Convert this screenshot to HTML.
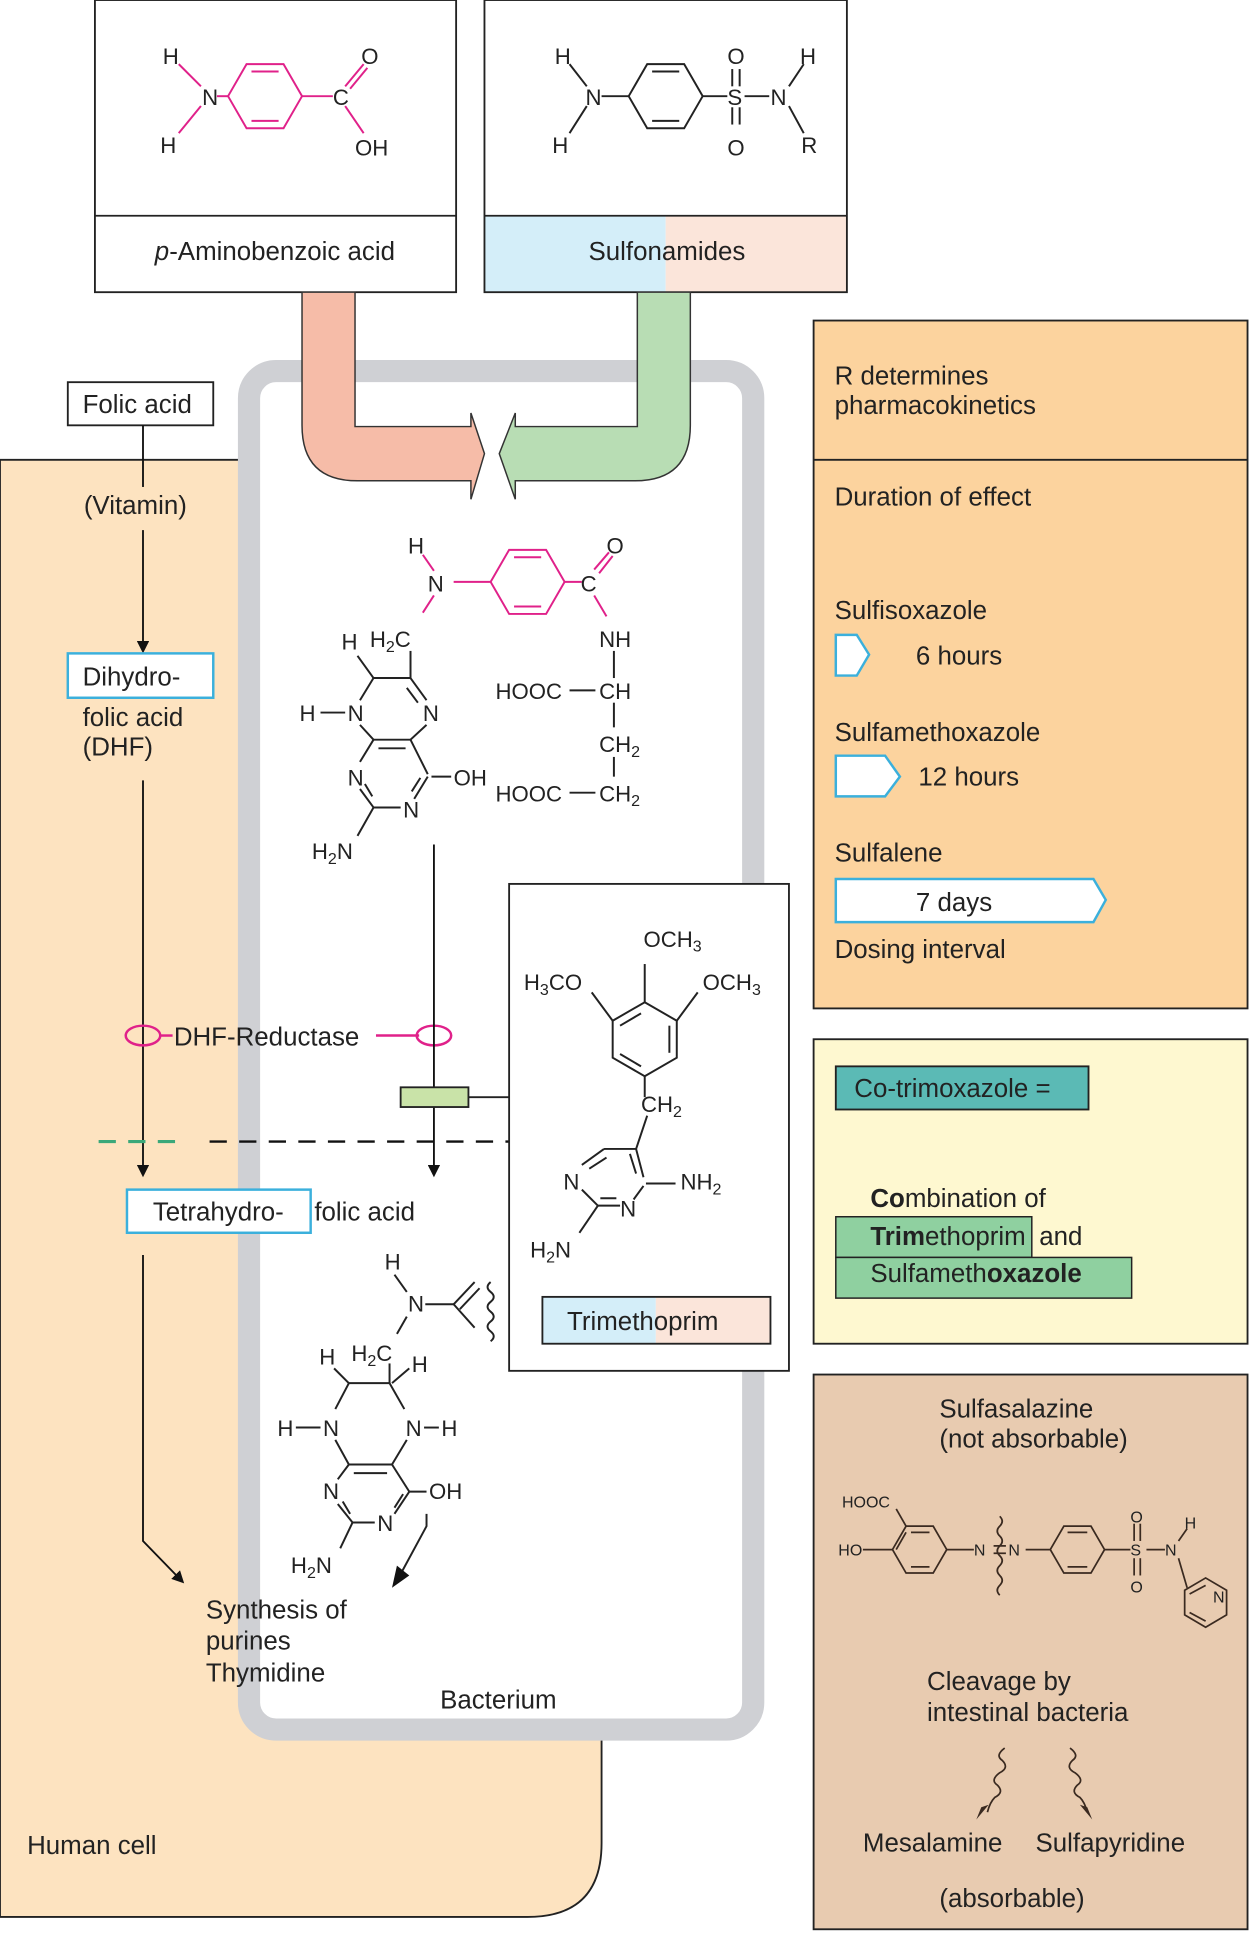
<!DOCTYPE html>
<html><head><meta charset="utf-8"><style>
html,body{margin:0;padding:0;background:#fff}
svg{display:block}
text{font-family:"Liberation Sans",sans-serif;fill:#222}
</style></head><body>
<svg width="1250" height="1933" viewBox="0 0 1014 1568" xmlns="http://www.w3.org/2000/svg">
<defs>
<marker id="ah" markerWidth="10" markerHeight="10" refX="8" refY="5" orient="auto" markerUnits="userSpaceOnUse"><path d="M0,0 L10,5 L0,10 z" fill="#111"/></marker>
</defs>
<!-- Human cell -->
<path d="M0,373 H488 V1495 Q488,1555 428,1555 H0 Z" fill="#fde3c0" stroke="#222" stroke-width="1.5"/>
<!-- Bacterium -->
<rect x="202" y="301" width="409" height="1102" rx="22" fill="#fff" stroke="#cfd0d4" stroke-width="18"/>
<!-- top boxes -->
<rect x="77" y="0" width="293" height="237" fill="#fff" stroke="#222" stroke-width="1.5"/>
<line x1="77" y1="175" x2="370" y2="175" stroke="#222" stroke-width="1.5"/>
<text x="223" y="211" font-size="21" text-anchor="middle"><tspan font-style="italic">p</tspan>-Aminobenzoic acid</text>
<rect x="393" y="175" width="147" height="62" fill="#d4eef9"/>
<rect x="540" y="175" width="147" height="62" fill="#fbe5da"/>
<rect x="393" y="0" width="294" height="237" fill="none" stroke="#222" stroke-width="1.5"/>
<line x1="393" y1="175" x2="687" y2="175" stroke="#222" stroke-width="1.5"/>
<text x="541" y="211" font-size="21" text-anchor="middle">Sulfonamides</text>
<!-- PABA -->
<g stroke="#e0218a" stroke-width="1.6" fill="none">
<polygon points="185,78 200,52 230,52 245,78 230,104 200,104"/>
<line x1="204" y1="58" x2="226" y2="58"/><line x1="204" y1="98" x2="226" y2="98"/>
<line x1="176" y1="78" x2="185" y2="78"/><line x1="245" y1="78" x2="270" y2="78"/>
<line x1="145" y1="52" x2="163" y2="70"/><line x1="145" y1="108" x2="163" y2="86"/>
<line x1="280" y1="70" x2="295" y2="52"/><line x1="284" y1="72" x2="298" y2="55"/>
<line x1="280" y1="86" x2="295" y2="108"/>
</g>
<g font-size="18">
<text x="164" y="85" fill="#e0218a">N</text><text x="132" y="52" fill="#e0218a">H</text><text x="130" y="124" fill="#e0218a">H</text>
<text x="270" y="85" fill="#e0218a">C</text><text x="293" y="52" fill="#e0218a">O</text><text x="288" y="126" fill="#e0218a">OH</text>
</g>
<!-- Sulfonamide -->
<g stroke="#222" stroke-width="1.6" fill="none">
<polygon points="510,78 525,52 555,52 570,78 555,104 525,104"/>
<line x1="529" y1="58" x2="551" y2="58"/><line x1="529" y1="98" x2="551" y2="98"/>
<line x1="488" y1="78" x2="510" y2="78"/><line x1="570" y1="78" x2="590" y2="78"/>
<line x1="604" y1="78" x2="624" y2="78"/>
<line x1="594" y1="56" x2="594" y2="70"/><line x1="600" y1="56" x2="600" y2="70"/>
<line x1="594" y1="87" x2="594" y2="101"/><line x1="600" y1="87" x2="600" y2="101"/>
<line x1="462" y1="52" x2="476" y2="70"/><line x1="462" y1="108" x2="476" y2="86"/>
<line x1="652" y1="52" x2="640" y2="70"/><line x1="652" y1="108" x2="640" y2="86"/>
</g>
<g font-size="18">
<text x="475" y="85">N</text><text x="450" y="52">H</text><text x="448" y="124">H</text>
<text x="590" y="85">S</text><text x="590" y="52">O</text><text x="590" y="126">O</text>
<text x="625" y="85">N</text><text x="649" y="52">H</text><text x="650" y="124">R</text>
</g>
<!-- big arrows -->
<path d="M245,237 H288 V346 H382 V335 L393,368 L382,405 V390 H290 Q245,390 245,345 Z" fill="#f6bca8" stroke="#333" stroke-width="1.2"/>
<path d="M560,237 H517 V346 H418 V335 L405,368 L418,405 V390 H515 Q560,390 560,345 Z" fill="#b8ddb4" stroke="#333" stroke-width="1.2"/>
<!-- Right panel 1 -->
<rect x="660" y="260" width="352" height="558" fill="#fcd39e" stroke="#222" stroke-width="1.5"/>
<line x1="660" y1="373" x2="1012" y2="373" stroke="#222" stroke-width="1.5"/>
<g fill="#fff" stroke="#3bb0dc" stroke-width="2">
<polygon points="678,515 695,515 705,531 695,548 678,548"/>
<polygon points="678,613 718,613 730,630 718,646 678,646"/>
<polygon points="678,713 887,713 897,730 887,748 678,748"/>
</g>
<g font-size="21">
<text x="677" y="312">R determines</text><text x="677" y="336">pharmacokinetics</text>
<text x="677" y="410">Duration of effect</text>
<text x="677" y="502">Sulfisoxazole</text>
<text x="743" y="539">6 hours</text>
<text x="677" y="601">Sulfamethoxazole</text>
<text x="745" y="637">12 hours</text>
<text x="677" y="699">Sulfalene</text>
<text x="743" y="739">7 days</text>
<text x="677" y="777">Dosing interval</text>
</g>
<!-- Right panel 2 -->
<rect x="660" y="843" width="352" height="247" fill="#fef8d0" stroke="#222" stroke-width="1.5"/>
<rect x="678" y="865" width="205" height="35" fill="#5bbab5" stroke="#222" stroke-width="1.5"/>
<text x="693" y="890" font-size="21">Co-trimoxazole =</text>
<text x="706" y="979" font-size="21"><tspan font-weight="bold">Co</tspan>mbination of</text>
<rect x="678" y="987" width="159" height="33" fill="#8fd0a0" stroke="#222" stroke-width="1.2"/>
<rect x="678" y="1020" width="240" height="33" fill="#8fd0a0" stroke="#222" stroke-width="1.2"/>
<text x="706" y="1010" font-size="21"><tspan font-weight="bold">Trim</tspan>ethoprim</text>
<text x="843" y="1010" font-size="21">and</text>
<text x="706" y="1040" font-size="21">Sulfameth<tspan font-weight="bold">oxazole</tspan></text>
<!-- Right panel 3 -->
<rect x="660" y="1115" width="352" height="450" fill="#e8cbb0" stroke="#222" stroke-width="1.5"/>
<g font-size="21">
<text x="762" y="1150">Sulfasalazine</text><text x="762" y="1174">(not absorbable)</text>
<text x="752" y="1371">Cleavage by</text><text x="752" y="1396">intestinal bacteria</text>
<text x="700" y="1502">Mesalamine</text><text x="840" y="1502">Sulfapyridine</text>
<text x="762" y="1547">(absorbable)</text>
</g>
<g stroke="#3a2a20" stroke-width="1.4" fill="none">
<polygon points="724,1257 735,1238 757,1238 768,1257 757,1276 735,1276"/>
<line x1="739" y1="1243" x2="754" y2="1243"/><line x1="739" y1="1271" x2="754" y2="1271"/><line x1="727" y1="1257" x2="735" y2="1243"/>
<polygon points="852,1257 863,1238 885,1238 896,1257 885,1276 863,1276"/>
<line x1="866" y1="1243" x2="882" y2="1243"/><line x1="866" y1="1271" x2="882" y2="1271"/>
<polygon points="978,1280 995,1290 995,1310 978,1320 961,1310 961,1290"/>
<line x1="965" y1="1293" x2="978" y2="1286"/><line x1="965" y1="1308" x2="978" y2="1315"/>
<line x1="700" y1="1257" x2="724" y2="1257"/><line x1="735" y1="1238" x2="727" y2="1224"/>
<line x1="768" y1="1257" x2="790" y2="1257"/><line x1="832" y1="1257" x2="852" y2="1257"/>
<line x1="896" y1="1257" x2="917" y2="1257"/><line x1="930" y1="1257" x2="945" y2="1257"/>
<line x1="920" y1="1236" x2="920" y2="1250"/><line x1="925" y1="1236" x2="925" y2="1250"/>
<line x1="920" y1="1264" x2="920" y2="1278"/><line x1="925" y1="1264" x2="925" y2="1278"/>
<line x1="963" y1="1240" x2="956" y2="1250"/><line x1="956" y1="1264" x2="963" y2="1288"/>
<line x1="806" y1="1254" x2="816" y2="1254"/><line x1="806" y1="1260" x2="816" y2="1260"/>
<path d="M811,1230 q4,4 0,8 q-4,4 0,8 q4,4 0,8 q-4,4 0,8 q4,4 0,8 q-4,4 0,8 q4,4 0,8 q-4,4 0,8"/>
<path d="M815,1418 q-8,6 -2,10 q6,6 -2,10 q-8,6 -2,10 q6,6 -2,10 q-4,4 -6,12"/>
<path d="M868,1418 q8,6 2,10 q-6,6 2,10 q8,6 2,10 q-6,6 2,10 q4,4 6,12"/>
</g>
<path d="M796,1466 l6,-2 l-10,12 z" fill="#3a2a20"/>
<path d="M882,1466 l-6,-2 l10,12 z" fill="#3a2a20"/>
<g font-size="13" fill="#3a2a20">
<text x="683" y="1223">HOOC</text><text x="680" y="1262">HO</text>
<text x="790" y="1262">N</text><text x="818" y="1262">N</text>
<text x="917" y="1262">S</text><text x="917" y="1235">O</text><text x="917" y="1292">O</text>
<text x="945" y="1262">N</text><text x="961" y="1240">H</text><text x="984" y="1300">N</text>
</g>
<!-- Folic acid pathway (left) -->
<rect x="55" y="310" width="118" height="35" fill="#fff" stroke="#222" stroke-width="1.5"/>
<text x="67" y="335" font-size="21">Folic acid</text>
<line x1="116" y1="345" x2="116" y2="395" stroke="#111" stroke-width="1.5"/>
<text x="68" y="417" font-size="21">(Vitamin)</text>
<line x1="116" y1="430" x2="116" y2="528" stroke="#111" stroke-width="1.5" marker-end="url(#ah)"/>
<rect x="55" y="530" width="118" height="36" fill="#fff" stroke="#3bb0dc" stroke-width="2"/>
<g font-size="21"><text x="67" y="556">Dihydro-</text><text x="67" y="589">folic acid</text><text x="67" y="613">(DHF)</text></g>
<line x1="116" y1="633" x2="116" y2="953" stroke="#111" stroke-width="1.5" marker-end="url(#ah)"/>
<rect x="103" y="965" width="149" height="35" fill="#fff" stroke="#3bb0dc" stroke-width="2"/>
<text x="124" y="990" font-size="21">Tetrahydro-</text>
<text x="255" y="990" font-size="21">folic acid</text>
<polyline points="116,1018 116,1250 148,1283" fill="none" stroke="#111" stroke-width="1.5" marker-end="url(#ah)"/>
<g font-size="21"><text x="167" y="1313">Synthesis of</text><text x="167" y="1338">purines</text><text x="167" y="1364">Thymidine</text></g>
<text x="357" y="1386" font-size="21">Bacterium</text>
<text x="22" y="1504" font-size="21">Human cell</text>
<!-- DHF reductase -->
<g stroke="#e0218a" stroke-width="2" fill="none">
<ellipse cx="116" cy="840" rx="14" ry="8"/><line x1="130" y1="840" x2="140" y2="840"/>
<line x1="305" y1="840" x2="340" y2="840"/><ellipse cx="352" cy="840" rx="14" ry="8"/>
</g>
<text x="141" y="848" font-size="21">DHF-Reductase</text>
<line x1="352" y1="685" x2="352" y2="953" stroke="#111" stroke-width="1.5" marker-end="url(#ah)"/>
<rect x="325" y="882" width="55" height="16" fill="#c9e3a8" stroke="#222" stroke-width="1.5"/>
<line x1="380" y1="890" x2="413" y2="890" stroke="#222" stroke-width="1.5"/>
<line x1="80" y1="926" x2="150" y2="926" stroke="#3aa87a" stroke-width="2.5" stroke-dasharray="14,10"/>
<line x1="170" y1="926" x2="413" y2="926" stroke="#111" stroke-width="2" stroke-dasharray="14,10"/>
<!-- DHF structure -->
<g stroke="#e0218a" stroke-width="1.6" fill="none">
<polygon points="398,472 413,446 443,446 458,472 443,498 413,498"/>
<line x1="417" y1="452" x2="439" y2="452"/><line x1="417" y1="492" x2="439" y2="492"/>
<line x1="368" y1="472" x2="398" y2="472"/><line x1="458" y1="472" x2="472" y2="472"/>
<line x1="343" y1="450" x2="352" y2="463"/><line x1="352" y1="483" x2="343" y2="497"/>
<line x1="482" y1="462" x2="494" y2="448"/><line x1="486" y1="465" x2="497" y2="451"/>
<line x1="482" y1="483" x2="492" y2="500"/>
</g>
<g font-size="18">
<text x="331" y="449" fill="#e0218a">H</text><text x="347" y="480" fill="#e0218a">N</text>
<text x="471" y="480" fill="#e0218a">C</text><text x="492" y="449" fill="#e0218a">O</text>
<text x="486" y="525">NH</text><text x="402" y="567">HOOC</text><text x="486" y="567">CH</text>
<text x="486" y="610">CH<tspan font-size="13" dy="4">2</tspan></text>
<text x="402" y="650">HOOC</text><text x="486" y="650">CH<tspan font-size="13" dy="4">2</tspan></text>
<text x="300" y="525">H<tspan font-size="13" dy="4">2</tspan><tspan dy="-4">C</tspan></text>
<text x="277" y="527" fill="#29a8d8">H</text><text x="243" y="585" fill="#29a8d8">H</text>
<text x="282" y="585">N</text><text x="343" y="585">N</text>
<text x="282" y="637">N</text><text x="327" y="663">N</text>
<text x="368" y="637">OH</text><text x="253" y="697">H<tspan font-size="13" dy="4">2</tspan><tspan dy="-4">N</tspan></text>
</g>
<g stroke="#222" stroke-width="1.6" fill="none">
<line x1="498" y1="528" x2="498" y2="550"/><line x1="462" y1="560" x2="483" y2="560"/>
<line x1="498" y1="570" x2="498" y2="590"/><line x1="498" y1="614" x2="498" y2="630"/>
<line x1="462" y1="643" x2="483" y2="643"/>
<line x1="333" y1="550" x2="333" y2="528"/>
<line x1="303" y1="550" x2="333" y2="550"/><line x1="303" y1="550" x2="290" y2="532"/>
<line x1="303" y1="550" x2="292" y2="568"/><line x1="333" y1="550" x2="346" y2="568"/><line x1="330" y1="558" x2="339" y2="570"/>
<line x1="260" y1="578" x2="280" y2="578"/>
<line x1="292" y1="588" x2="303" y2="600"/><line x1="346" y1="588" x2="333" y2="600"/>
<line x1="303" y1="600" x2="333" y2="600"/><line x1="307" y1="607" x2="329" y2="607"/>
<line x1="303" y1="600" x2="292" y2="618"/><line x1="333" y1="600" x2="347" y2="628"/>
<line x1="347" y1="630" x2="336" y2="648"/><line x1="341" y1="631" x2="334" y2="642"/>
<line x1="350" y1="630" x2="366" y2="630"/>
<line x1="292" y1="640" x2="303" y2="655"/><line x1="296" y1="636" x2="302" y2="646"/>
<line x1="303" y1="655" x2="325" y2="655"/><line x1="303" y1="655" x2="290" y2="678"/>
</g>
<!-- THF structure -->
<g font-size="18">
<text x="312" y="1030">H</text><text x="331" y="1064">N</text>
<text x="285" y="1104">H<tspan font-size="13" dy="4">2</tspan><tspan dy="-4">C</tspan></text>
<text x="259" y="1107" fill="#29a8d8">H</text><text x="334" y="1113" fill="#29a8d8">H</text>
<text x="225" y="1165" fill="#29a8d8">H</text><text x="262" y="1165">N</text>
<text x="329" y="1165">N</text><text x="358" y="1165" fill="#29a8d8">H</text>
<text x="262" y="1216">N</text><text x="348" y="1216">OH</text>
<text x="306" y="1242">N</text><text x="236" y="1276">H<tspan font-size="13" dy="4">2</tspan><tspan dy="-4">N</tspan></text>
</g>
<g stroke="#222" stroke-width="1.6" fill="none">
<line x1="320" y1="1034" x2="330" y2="1048"/><line x1="345" y1="1058" x2="368" y2="1058"/>
<line x1="368" y1="1058" x2="385" y2="1040"/><line x1="373" y1="1062" x2="389" y2="1045"/>
<line x1="368" y1="1058" x2="385" y2="1077"/>
<path d="M398,1040 q-5,4 0,8 q5,4 0,8 q-5,4 0,8 q5,4 0,8 q-5,4 0,8 q5,4 0,8"/>
<line x1="330" y1="1068" x2="322" y2="1082"/>
<line x1="316" y1="1106" x2="316" y2="1122"/><line x1="318" y1="1122" x2="332" y2="1110"/>
<line x1="283" y1="1122" x2="316" y2="1122"/><line x1="283" y1="1122" x2="271" y2="1110"/>
<line x1="283" y1="1122" x2="272" y2="1143"/><line x1="316" y1="1122" x2="328" y2="1143"/>
<line x1="240" y1="1158" x2="260" y2="1158"/><line x1="344" y1="1158" x2="356" y2="1158"/>
<line x1="272" y1="1168" x2="283" y2="1188"/><line x1="330" y1="1168" x2="318" y2="1188"/>
<line x1="283" y1="1188" x2="318" y2="1188"/><line x1="287" y1="1195" x2="314" y2="1195"/>
<line x1="283" y1="1188" x2="274" y2="1200"/><line x1="318" y1="1188" x2="332" y2="1210"/>
<line x1="332" y1="1210" x2="346" y2="1210"/><line x1="332" y1="1210" x2="320" y2="1228"/><line x1="327" y1="1212" x2="320" y2="1223"/>
<line x1="274" y1="1220" x2="286" y2="1235"/><line x1="278" y1="1218" x2="284" y2="1228"/>
<line x1="286" y1="1235" x2="304" y2="1235"/><line x1="286" y1="1235" x2="276" y2="1256"/>
<polyline points="346,1228 346,1238 326,1275"/>
</g>
<path d="M318,1288 l4,-18 l10,8 z" fill="#111"/>
<!-- Trimethoprim box -->
<rect x="413" y="717" width="227" height="395" fill="#fff" stroke="#222" stroke-width="1.5"/>
<rect x="440" y="1052" width="92" height="38" fill="#d4eef9"/>
<rect x="532" y="1052" width="93" height="38" fill="#fbe5da"/>
<rect x="440" y="1052" width="185" height="38" fill="none" stroke="#222" stroke-width="1.5"/>
<text x="460" y="1079" font-size="21">Trimethoprim</text>
<g stroke="#222" stroke-width="1.6" fill="none">
<polygon points="523,813 549,828 549,858 523,873 497,858 497,828"/>
<line x1="503" y1="832" x2="520" y2="822"/><line x1="503" y1="855" x2="520" y2="865"/><line x1="543" y1="832" x2="543" y2="854"/>
<line x1="523" y1="813" x2="523" y2="782"/><line x1="497" y1="828" x2="480" y2="805"/><line x1="549" y1="828" x2="566" y2="805"/>
<line x1="523" y1="873" x2="523" y2="890"/>
<line x1="525" y1="905" x2="516" y2="932"/>
<line x1="516" y1="932" x2="522" y2="955"/><line x1="511" y1="936" x2="516" y2="952"/>
<line x1="516" y1="932" x2="490" y2="932"/><line x1="490" y1="932" x2="472" y2="945"/><line x1="492" y1="939" x2="478" y2="948"/>
<line x1="524" y1="960" x2="548" y2="960"/>
<line x1="522" y1="962" x2="514" y2="973"/>
<line x1="472" y1="965" x2="485" y2="978"/><line x1="485" y1="978" x2="503" y2="978"/><line x1="487" y1="972" x2="500" y2="972"/>
<line x1="485" y1="978" x2="470" y2="1000"/>
</g>
<g font-size="18">
<text x="522" y="768">OCH<tspan font-size="13" dy="4">3</tspan></text>
<text x="425" y="803">H<tspan font-size="13" dy="4">3</tspan><tspan dy="-4">CO</tspan></text>
<text x="570" y="803">OCH<tspan font-size="13" dy="4">3</tspan></text>
<text x="520" y="902">CH<tspan font-size="13" dy="4">2</tspan></text>
<text x="457" y="965">N</text><text x="503" y="987">N</text>
<text x="552" y="965">NH<tspan font-size="13" dy="4">2</tspan></text>
<text x="430" y="1020">H<tspan font-size="13" dy="4">2</tspan><tspan dy="-4">N</tspan></text>
</g>
</svg>
</body></html>
